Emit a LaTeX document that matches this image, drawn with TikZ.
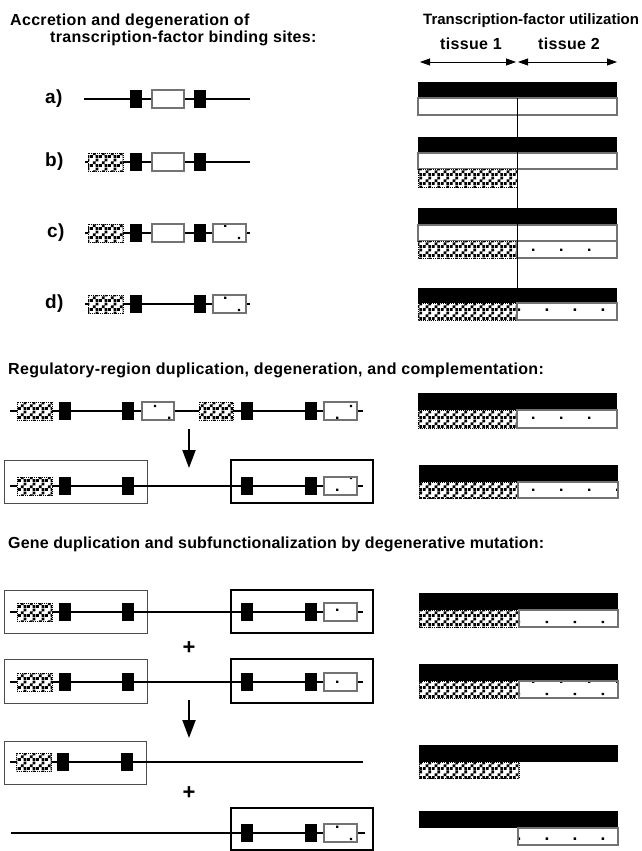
\documentclass[tikz,border=0pt]{standalone}
\usepackage{fontspec}
\newfontfamily\headfont{Liberation Sans}[LetterSpace=2]
\newfontfamily\headfontb{Liberation Sans}[LetterSpace=1]
\usepackage{tikz}
\usetikzlibrary{arrows.meta,patterns}

% fill patterns for the binding-site boxes
\pgfdeclarepatternformonly{tfhatch}{\pgfpointorigin}{\pgfqpoint{9pt}{9pt}}{\pgfqpoint{9pt}{9pt}}{
	\pgfpathrectangle{\pgfqpoint{0pt}{0pt}}{\pgfqpoint{3pt}{3pt}}
	\pgfpathrectangle{\pgfqpoint{3pt}{3pt}}{\pgfqpoint{3pt}{3pt}}
	\pgfpathrectangle{\pgfqpoint{6pt}{6pt}}{\pgfqpoint{3pt}{3pt}}
	\pgfpathrectangle{\pgfqpoint{6pt}{0pt}}{\pgfqpoint{3pt}{3pt}}
	\pgfusepath{fill}
}
\pgfdeclarepatternformonly{tfdots}{\pgfpointorigin}{\pgfqpoint{28pt}{24pt}}{\pgfqpoint{28pt}{24pt}}{
	\pgfpathrectangle{\pgfqpoint{0pt}{0pt}}{\pgfqpoint{2.5pt}{2.5pt}}
	\pgfpathrectangle{\pgfqpoint{14pt}{12pt}}{\pgfqpoint{2.5pt}{2.5pt}}
	\pgfusepath{fill}
}

\begin{document}
\begin{tikzpicture}[
		x=1pt, y=-1pt,
		head/.style={
			font=\headfont\bfseries\fontsize{16}{19}\selectfont,
			anchor=base west,
			inner sep=0pt
		},
		lbl/.style={
			font=\headfont\bfseries\fontsize{19}{21}\selectfont,
			anchor=west,
			inner sep=0pt
		},
		site/.style={
			fill=black,
			minimum width=12pt,
			minimum height=18pt,
			inner sep=0pt
		},
		tfbox/.style={
			draw=black!55,
			line width=1.2pt,
			fill=white,
			minimum width=32pt,
			minimum height=18pt,
			inner sep=0pt
		},
		dotbox/.style={
			draw=black!55,
			line width=1.2pt,
			preaction={fill=white},
			pattern=tfdots,
			minimum width=33pt,
			minimum height=18pt,
			inner sep=0pt
		},
		hatchbox/.style={
			draw,
			densely dotted,
			line width=1pt,
			preaction={fill=white},
			pattern=tfhatch,
			minimum width=35pt,
			minimum height=18pt,
			inner sep=0pt
		},
		gene/.style={line width=2pt},
		region/.style={draw=black!70, line width=1pt},
		regthick/.style={draw, line width=2pt},
		down/.style={line width=2pt, -{Triangle[width=13pt,length=18pt]}},
		tarrow/.style={line width=0.8pt, {Triangle[width=7pt,length=10pt]}-{Triangle[width=7pt,length=10pt]}},
		wbar/.style={draw=black!55, line width=1.2pt, fill=white},
		hbar/.style={draw, densely dotted, line width=1pt, preaction={fill=white}, pattern=tfhatch},
		dbar/.style={draw=black!55, line width=1.2pt, preaction={fill=white}, pattern=tfdots}
		]
		
		\useasboundingbox (0,0) rectangle (641,851);
		
		% headings
		\node[head] (h1) at (10,26) {Accretion and degeneration of};
		\node[head] (h2) at (50,43) {transcription-factor binding sites:};
		\node[head, font=\fontspec{Liberation Sans}\bfseries\fontsize{15}{18}\selectfont] (h3) at (423,25) {Transcription-factor utilization};
		\node[head] (tis1) at (440,50) {tissue 1};
		\node[head] (tis2) at (538,50) {tissue 2};
		\node[head] (h4) at (8,374) {Regulatory-region duplication, degeneration, and complementation:};
		\node[head, font=\headfontb\bfseries\fontsize{16}{19}\selectfont] (h5) at (8,548) {Gene duplication and subfunctionalization by degenerative mutation:};
		
		\coordinate (t0) at (420,62);
		\coordinate (t1) at (516,62);
		\coordinate (t2) at (518,62);
		\coordinate (t3) at (617,62);
		\draw[tarrow] (t0) -- (t1);
		\draw[tarrow] (t2) -- (t3);
		
		% a)
		\node[lbl] (la) at (45,99) {a)};
		\coordinate (a0) at (84,99);
		\coordinate (a9) at (250,99);
		\draw[gene] (a0) -- (a9);
		\node[site] (a1) at (136,99) {};
		\node[tfbox] (a2) at (168,99) {};
		\node[site] (a3) at (200,99) {};
		
		% b)
		\node[lbl] (lb) at (45,162) {b)};
		\coordinate (b0) at (85,162);
		\coordinate (b9) at (250,162);
		\draw[gene] (b0) -- (b9);
		\node[hatchbox] (b1) at (105.5,162) {};
		\node[site] (b2) at (136,162) {};
		\node[tfbox] (b3) at (168,162) {};
		\node[site] (b4) at (200,162) {};
		
		% c)
		\node[lbl] (lc) at (47,233) {c)};
		\coordinate (c0) at (85,233);
		\coordinate (c9) at (250,233);
		\draw[gene] (c0) -- (c9);
		\node[hatchbox] (c1) at (105.5,233) {};
		\node[site] (c2) at (136,233) {};
		\node[tfbox] (c3) at (168,233) {};
		\node[site] (c4) at (200,233) {};
		\node[dotbox] (c5) at (229.5,233) {};
		
		% d)
		\node[lbl] (ld) at (45,304) {d)};
		\coordinate (d0) at (85,304);
		\coordinate (d9) at (250,304);
		\draw[gene] (d0) -- (d9);
		\node[hatchbox] (d1) at (105.5,304) {};
		\node[site] (d2) at (136,304) {};
		\node[site] (d3) at (200,304) {};
		\node[dotbox] (d4) at (229.5,304) {};
		
		% utilization, top part
		\fill (418,82) rectangle (617,98);
		\draw[wbar] (418,98) rectangle (617,115);
		\fill (418,137) rectangle (617,153);
		\draw[wbar] (418,153) rectangle (617,169);
		\draw[hbar] (418,169) rectangle (517,187);
		\fill (418,208) rectangle (617,225);
		\draw[wbar] (418,225) rectangle (617,241);
		\draw[hbar] (418,241) rectangle (517,258);
		\draw[dbar] (517,241) rectangle (617,258);
		\fill (418,288) rectangle (617,303);
		\draw[hbar] (418,303) rectangle (517,320);
		\draw[dbar] (517,303) rectangle (617,320);
		\draw[line width=1pt] (517,98) -- (517,288);
		
		% regulatory-region duplication
		\coordinate (r0) at (10,411);
		\coordinate (r9) at (363,411);
		\draw[gene] (r0) -- (r9);
		\node[hatchbox] (r1) at (34.5,411) {};
		\node[site] (r2) at (64.5,411) {};
		\node[site] (r3) at (127.5,411) {};
		\node[dotbox, minimum width=32pt] (r4) at (158,411) {};
		\node[hatchbox, minimum width=34pt] (r5) at (216,411) {};
		\node[site] (r6) at (247,411) {};
		\node[site] (r7) at (310.5,411) {};
		\node[dotbox] (r8) at (340.5,411) {};
		
		\coordinate (ra) at (189,429);
		\coordinate (rb) at (189,468);
		\draw[down] (ra) -- (rb);
		
		\draw[region] (4,460) rectangle (147,503);
		\draw[regthick] (231,460) rectangle (373,503);
		\coordinate (s0) at (10,486);
		\coordinate (s9) at (363,486);
		\draw[gene] (s0) -- (s9);
		\node[hatchbox] (s1) at (34.5,486) {};
		\node[site] (s2) at (64.5,486) {};
		\node[site] (s3) at (127.5,486) {};
		\node[site] (s4) at (247,486) {};
		\node[site] (s5) at (310.5,486) {};
		\node[dotbox] (s6) at (340.5,486) {};
		
		\fill (418,393) rectangle (617,410);
		\draw[hbar] (418,410) rectangle (517,428);
		\draw[dbar] (517,410) rectangle (617,428);
		\fill (419,465) rectangle (618,482);
		\draw[hbar] (419,482) rectangle (518,498);
		\draw[dbar] (518,482) rectangle (618,498);
		
		% gene duplication
		\draw[region] (4,590) rectangle (147,633);
		\draw[regthick] (231,590) rectangle (373,633);
		\coordinate (g0) at (10,612);
		\coordinate (g9) at (363,612);
		\draw[gene] (g0) -- (g9);
		\node[hatchbox] (g1) at (34.5,612) {};
		\node[site] (g2) at (64.5,612) {};
		\node[site] (g3) at (127.5,612) {};
		\node[site] (g4) at (247,612) {};
		\node[site] (g5) at (310.5,612) {};
		\node[dotbox] (g6) at (340.5,612) {};
		
		\node[lbl, anchor=center, font=\headfont\bfseries\fontsize{22}{24}\selectfont] (p1) at (189,648) {+};
		
		\draw[region] (4,659) rectangle (147,703);
		\draw[regthick] (231,659) rectangle (373,703);
		\coordinate (k0) at (10,682);
		\coordinate (k9) at (363,682);
		\draw[gene] (k0) -- (k9);
		\node[hatchbox] (k1) at (34.5,682) {};
		\node[site] (k2) at (64.5,682) {};
		\node[site] (k3) at (127.5,682) {};
		\node[site] (k4) at (247,682) {};
		\node[site] (k5) at (310.5,682) {};
		\node[dotbox] (k6) at (340.5,682) {};
		
		\coordinate (ka) at (189,700);
		\coordinate (kb) at (189,738);
		\draw[down] (ka) -- (kb);
		
		\draw[region] (4,741) rectangle (146,784);
		\coordinate (m0) at (10,762);
		\coordinate (m9) at (363,762);
		\draw[gene] (m0) -- (m9);
		\node[hatchbox] (m1) at (34,762) {};
		\node[site] (m2) at (63,762) {};
		\node[site] (m3) at (126.5,762) {};
		
		\node[lbl, anchor=center, font=\headfont\bfseries\fontsize{22}{24}\selectfont] (p2) at (189,793) {+};
		
		\draw[regthick] (231,808) rectangle (373,850);
		\coordinate (n0) at (11,833);
		\coordinate (n9) at (365,833);
		\draw[gene] (n0) -- (n9);
		\node[site] (n1) at (247,833) {};
		\node[site] (n2) at (310.5,833) {};
		\node[dotbox] (n3) at (340.5,833) {};
		
		\fill (419,593) rectangle (618,610);
		\draw[hbar] (419,610) rectangle (519,627);
		\draw[dbar] (519,610) rectangle (618,627);
		\fill (419,664) rectangle (618,681);
		\draw[hbar] (419,681) rectangle (519,698);
		\draw[dbar] (519,681) rectangle (618,698);
		\fill (419,745) rectangle (618,762);
		\draw[hbar] (419,762) rectangle (519,778);
		\fill (419,811) rectangle (618,828);
		\draw[dbar] (518,828) rectangle (618,845);
		
\end{tikzpicture}
\end{document}
